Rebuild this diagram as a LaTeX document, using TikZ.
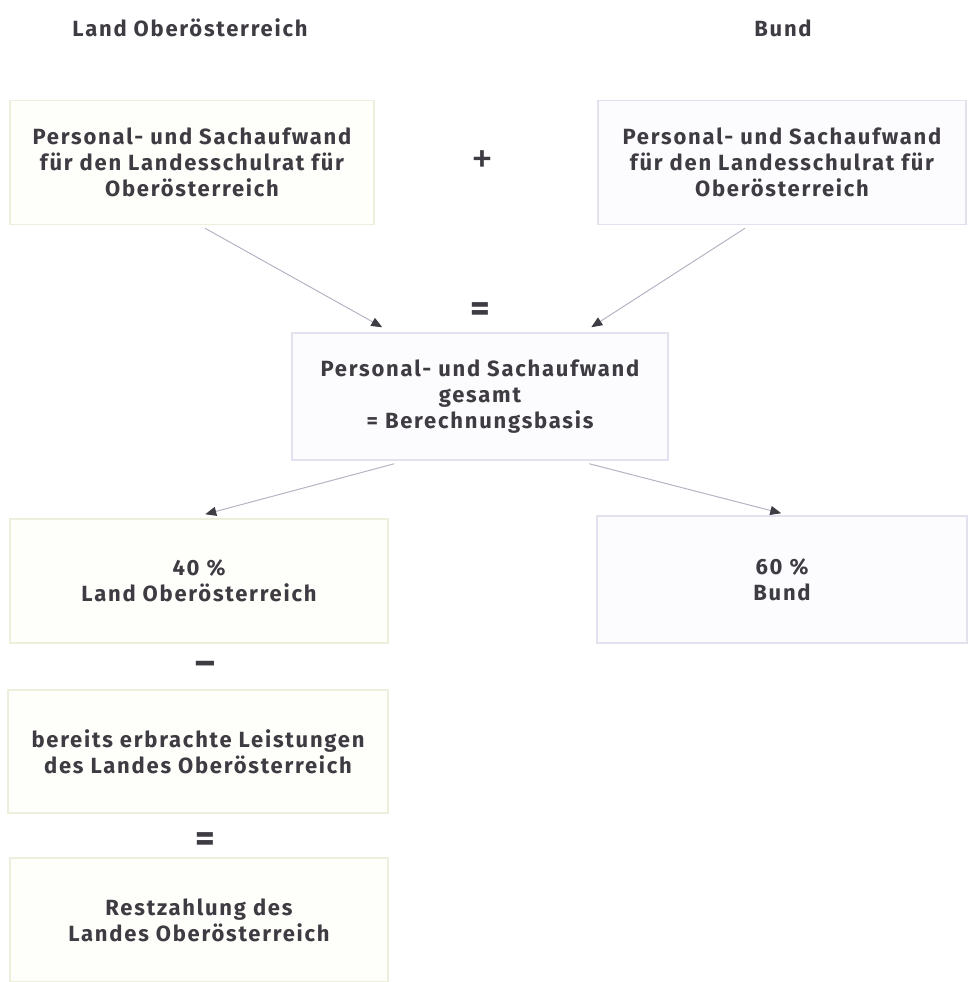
\documentclass[tikz,border=0pt]{standalone}
\usepackage{fontspec}
\setmainfont{Fira Sans}[LetterSpace=8]
\usetikzlibrary{arrows.meta,calc}
\definecolor{txt}{HTML}{3F3B42}
\definecolor{ybord}{HTML}{EDEEDC}
\definecolor{yfill}{HTML}{FEFEFA}
\definecolor{lbord}{HTML}{E2E2EE}
\definecolor{lfill}{HTML}{FCFCFE}
\definecolor{arr}{HTML}{B4B4C4}
\definecolor{tip}{HTML}{3E3C44}
\begin{document}
\begin{tikzpicture}[x=1pt,y=-1pt,
  every node/.style={text=txt,font=\fontsize{22}{26}\selectfont\bfseries,align=center,inner sep=0pt},
  ybox/.style={draw=ybord,fill=yfill,line width=1.5pt,minimum height=124pt},
  lbox/.style={draw=lbord,fill=lfill,line width=1.5pt,minimum height=124pt},
  conn/.style={draw=arr,line width=1pt,-{Triangle[length=11pt,width=9pt,color=tip]}},
  op/.style={font=\fontsize{38}{38}\selectfont\bfseries}]
\useasboundingbox (0,0) rectangle (967,982);
\node (h1) at (190,28) {Land Oberösterreich};
\node (h2) at (783,28) {Bund};
\node[ybox,minimum width=364pt] (A) at (192,162.5) {Personal- und Sachaufwand\\für den Landesschulrat für\\Oberösterreich};
\node[lbox,minimum width=368pt] (B) at (782,162.5) {Personal- und Sachaufwand\\für den Landesschulrat für\\Oberösterreich};
\node[op,font=\fontsize{44}{44}\selectfont\mdseries] (plus) at (482,162) {+};
\node[op] (eq1) at (480,312) {=};
\node[lbox,minimum width=376pt,minimum height=127pt] (C) at (480,396.5) {Personal- und Sachaufwand\\gesamt\\= Berechnungsbasis};
\node[ybox,minimum width=378pt] (D) at (199,581) {40 \%\\Land Oberösterreich};
\node[lbox,minimum width=370pt,minimum height=127pt] (E) at (782,579.5) {60 \%\\Bund};
\node[op] (minus) at (205,668) {–};
\node[ybox,minimum width=380pt,minimum height=123pt] (F) at (198,751.5) {bereits erbrachte Leistungen\\des Landes Oberösterreich};
\node[op] (eq2) at (205,842) {=};
\node[ybox,minimum width=378pt] (G) at (199,920) {Restzahlung des\\Landes Oberösterreich};
\coordinate (a1) at ($(A.south)+(13,3)$);
\coordinate (a1e) at ($(C.north west)+(91,-5)$);
\coordinate (b1) at ($(B.south)+(-37,3)$);
\coordinate (b1e) at ($(C.north west)+(300,-5)$);
\coordinate (c1) at ($(C.south west)+(103,3)$);
\coordinate (c1e) at ($(D.north west)+(196,-4)$);
\coordinate (c2) at ($(C.south west)+(298,3)$);
\coordinate (c2e) at ($(E.north west)+(185,-2)$);
\draw[conn] (a1) -- (a1e);
\draw[conn] (b1) -- (b1e);
\draw[conn] (c1) -- (c1e);
\draw[conn] (c2) -- (c2e);
\end{tikzpicture}
\end{document}
